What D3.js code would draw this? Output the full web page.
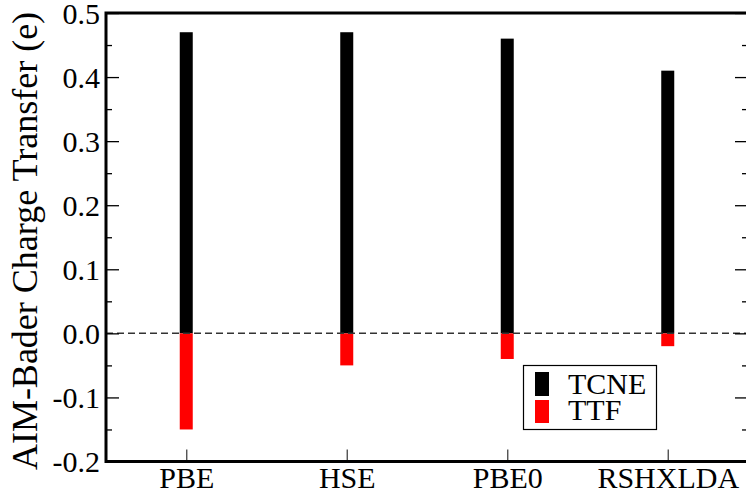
<!DOCTYPE html>
<html>
<head>
<meta charset="utf-8">
<script src="https://cdn.jsdelivr.net/npm/d3@7"></script>
<style>
  html, body { margin: 0; padding: 0; background: #fff; }
  svg { display: block; }
</style>
</head>
<body>
<svg id="chart" width="746" height="500"></svg>
<script>
const categories = ["PBE", "HSE", "PBE0", "RSHXLDA"];
const tcne = [0.47, 0.47, 0.46, 0.41];
const ttf = [-0.15, -0.05, -0.04, -0.02];
const yTicks = [-0.2, -0.1, 0.0, 0.1, 0.2, 0.3, 0.4, 0.5];
const yMinorTicks = [-0.15, -0.05, 0.05, 0.15, 0.25, 0.35, 0.45];
const seriesNames = ["TCNE", "TTF"];
const seriesColors = ["#000000", "#ff0000"];

const svg = d3.select("#chart");
const pLeft = 106, pRight = 748, pTop = 13, pBottom = 461.5;

const x = d3.scaleLinear().domain([0.5, 4.5]).range([pLeft, pRight]);
const y = d3.scaleLinear().domain([-0.2, 0.5]).range([pBottom, pTop]);
const barW = 13;

// bars
const g = svg.append("g");
g.selectAll("rect.tcne").data(tcne).enter().append("rect")
  .attr("x", (d, i) => x(i + 1) - barW / 2)
  .attr("y", d => y(d))
  .attr("width", barW)
  .attr("height", d => y(0) - y(d))
  .attr("fill", seriesColors[0]);
g.selectAll("rect.ttf").data(ttf).enter().append("rect")
  .attr("x", (d, i) => x(i + 1) - barW / 2)
  .attr("y", y(0))
  .attr("width", barW)
  .attr("height", d => y(d) - y(0))
  .attr("fill", seriesColors[1]);

// zero dashed line
svg.append("line")
  .attr("x1", pLeft).attr("x2", pRight)
  .attr("y1", y(0)).attr("y2", y(0))
  .attr("stroke", "#333").attr("stroke-width", 1.5)
  .attr("stroke-dasharray", "7,4");

// left axis
const yAxis = d3.axisLeft(y).tickValues(yTicks).tickSize(-13).tickPadding(6)
  .tickFormat(d => d3.format(".1f")(d).replace("\u2212", "-"));
const ya = svg.append("g").attr("transform", `translate(${pLeft},0)`).call(yAxis);
ya.select(".domain").remove();
ya.selectAll(".tick line").attr("stroke", "#000").attr("stroke-width", 1.3);
ya.selectAll(".tick text").attr("font-size", 30).attr("dy", "0.34em");
const yMinor = d3.axisLeft(y).tickValues(yMinorTicks).tickSize(-6).tickFormat("");
const ym = svg.append("g").attr("transform", `translate(${pLeft},0)`).call(yMinor);
ym.select(".domain").remove();
ym.selectAll(".tick line").attr("stroke", "#000").attr("stroke-width", 1.3);

// right axis ticks
const yR = d3.axisRight(y).tickValues(yTicks).tickSize(-13).tickFormat("");
const yr = svg.append("g").attr("transform", `translate(${pRight},0)`).call(yR);
yr.select(".domain").remove();
yr.selectAll(".tick line").attr("stroke", "#000").attr("stroke-width", 1.3);
const yRm = d3.axisRight(y).tickValues(yMinorTicks).tickSize(-6).tickFormat("");
const yrm = svg.append("g").attr("transform", `translate(${pRight},0)`).call(yRm);
yrm.select(".domain").remove();
yrm.selectAll(".tick line").attr("stroke", "#000").attr("stroke-width", 1.3);

// bottom axis
const xAxis = d3.axisBottom(x).tickValues([1, 2, 3, 4]).tickSize(-12)
  .tickFormat((d) => categories[d - 1]);
const xa = svg.append("g").attr("transform", `translate(0,${pBottom})`).call(xAxis);
xa.select(".domain").remove();
xa.selectAll(".tick line").attr("stroke", "#444").attr("stroke-width", 1.3);
xa.selectAll(".tick text").attr("font-size", 30).attr("y", 26.5).attr("dy", null);

// frame
svg.append("path")
  .attr("d", `M${pRight},${pTop}H${pLeft}V${pBottom}H${pRight}`)
  .attr("fill", "none").attr("stroke", "#000").attr("stroke-width", 3);
svg.append("line").attr("x1", pRight).attr("x2", pRight).attr("y1", pTop).attr("y2", pBottom)
  .attr("stroke", "#000").attr("stroke-width", 3);

// y label
svg.append("text")
  .attr("transform", `translate(37,241) rotate(-90)`)
  .attr("text-anchor", "middle")
  .attr("font-size", 36)
  .text("AIM-Bader Charge Transfer (e)");

// legend
const lg = svg.append("g");
lg.append("rect").attr("x", 523.5).attr("y", 365.5).attr("width", 133).attr("height", 64)
  .attr("fill", "#fff").attr("stroke", "#000").attr("stroke-width", 1.2);
const sw = [[372, 396], [400, 423]];
const tb = [394, 420];
seriesNames.forEach((name, i) => {
  lg.append("rect").attr("x", 535).attr("y", sw[i][0]).attr("width", 14)
    .attr("height", sw[i][1] - sw[i][0]).attr("fill", seriesColors[i]);
  lg.append("text").attr("x", 568).attr("y", tb[i]).attr("font-size", 30).text(name);
});

svg.selectAll("g").attr("font-family", null);
svg.selectAll("text").attr("font-family", "Liberation Serif")
  .style("font-family", "'Liberation Serif', serif").attr("fill", "#000");
</script>
</body>
</html>
